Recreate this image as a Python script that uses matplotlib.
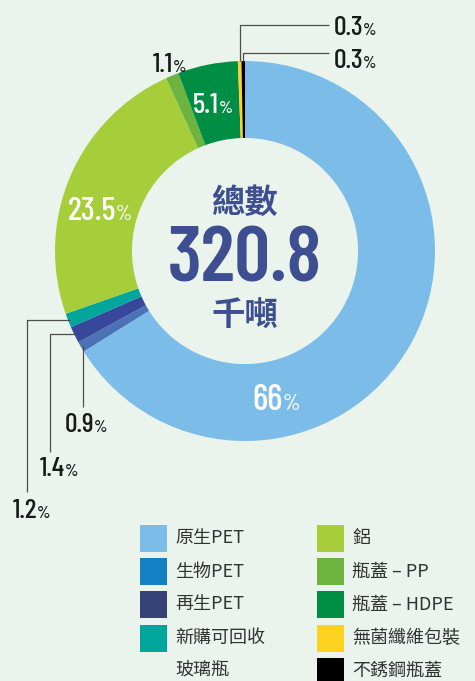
import numpy as np
import matplotlib

matplotlib.use("Agg")
import matplotlib.pyplot as plt
from matplotlib.patches import Rectangle

plt.rcParams["font.family"] = ["Noto Sans CJK TC", "DejaVu Sans"]

# data, clockwise from 12 o'clock
names = ["原生PET", "生物PET", "再生PET", "新購可回收\n玻璃瓶", "鋁",
         "瓶蓋 – PP", "瓶蓋 – HDPE", "無菌纖維包裝", "不銹鋼瓶蓋"]
shares = [66, 0.9, 1.4, 1.2, 23.5, 1.1, 5.1, 0.3, 0.3]
pct_text = ["66", "0.9", "1.4", "1.2", "23.5", "1.1", "5.1", "0.3", "0.3"]
slice_colors = ["#7bbde8", "#4a72b5", "#37479c", "#00a59c", "#a6cd3a",
                "#6db33f", "#008e45", "#ffd21f", "#000000"]
legend_colors = ["#7bbde8", "#1380c3", "#364377", "#00a59c", "#a6cd3a",
                 "#6db33f", "#008e45", "#ffd21f", "#000000"]
total = "320.8"

BG = "#eaf4ed"
NAVY = "#3d4f91"
NUM_FONT = ["Barlow Condensed", "DejaVu Sans"]

fig = plt.figure(figsize=(4.75, 6.81), dpi=100, facecolor=BG)
ax = fig.add_axes([0.1158, 0.3524, 0.8, 0.558])
ax.set_facecolor(BG)
wedges, _ = ax.pie(shares, colors=slice_colors, startangle=90, counterclock=False,
                   radius=1, wedgeprops=dict(width=0.405, edgecolor="none"))
ax.set_xlim(-1, 1)
ax.set_ylim(-1, 1)
ax.set_aspect("equal")
ax.axis("off")

# centre
ax.text(0, 0.25, "總數", ha="center", va="center", fontsize=24, fontweight="bold", color=NAVY)
ax.text(0, -0.163, total, ha="center", va="baseline", fontsize=57, fontweight=600,
        color=NAVY, family=NUM_FONT)
ax.text(0, -0.345, "千噸", ha="center", va="center", fontsize=24, fontweight="bold", color=NAVY)

# percentage labels: (x, baseline y, size, colour)
label_pos = {
    0: (0.20, -0.837, 26, "white"),
    4: (-0.679, 0.163, 24, "white"),
    6: (-0.137, 0.726, 21, "white"),
    5: (-0.379, 0.942, 20, "#1a1a1a"),
    7: (0.621, 1.137, 20, "#1a1a1a"),
    8: (0.621, 0.963, 20, "#1a1a1a"),
    1: (-0.795, -0.953, 20, "#1a1a1a"),
    2: (-0.947, -1.184, 20, "#1a1a1a"),
    3: (-1.095, -1.405, 20, "#1a1a1a"),
}
for i, (x, y, size, col) in label_pos.items():
    ax.text(x, y, pct_text[i], ha="right", va="baseline", fontsize=size, color=col,
            family=NUM_FONT, fontweight=500, clip_on=False)
    ax.text(x, y, "%", ha="left", va="baseline", fontsize=size * 0.62, color=col,
            family=NUM_FONT, fontweight=500, clip_on=False)


def edge_point(w, r=1.0):
    a = np.deg2rad((w.theta1 + w.theta2) / 2)
    return r * np.cos(a), r * np.sin(a)


line_kw = dict(color="#4d4d4d", lw=0.9, clip_on=False, solid_capstyle="butt")
# top leaders
for i, ytop in [(7, 1.189), (8, 1.042)]:
    x0, y0 = edge_point(wedges[i])
    ax.plot([x0, x0, 0.442], [y0, ytop, ytop], **line_kw)
# bottom-left leaders
x0, y0 = edge_point(wedges[1], 0.99)
ax.plot([x0, x0], [y0, -0.821], **line_kw)
for i, xcol, yend in [(2, -1.026, -1.058), (3, -1.147, -1.268)]:
    x0, y0 = edge_point(wedges[i], 0.99)
    ax.plot([x0, xcol, xcol], [y0, y0, yend], **line_kw)

# legend in pixel space
lax = fig.add_axes([0, 0, 1, 1])
lax.set_xlim(0, 475)
lax.set_ylim(681, 0)
lax.axis("off")
order_left = [0, 1, 2, 3]
order_right = [4, 5, 6, 7, 8]
row_y = [538.5, 571.5, 604.5, 638]
for col_x, idxs in [(140, order_left), (317, order_right)]:
    for k, i in enumerate(idxs):
        y = row_y[k] if k < 4 else row_y[3] + 33
        lax.add_patch(Rectangle((col_x, y - 13.5), 27, 27, color=legend_colors[i], lw=0))
        lines = names[i].split("\n")
        for j, t in enumerate(lines):
            lax.text(col_x + 35, y + j * 32, t, ha="left", va="center",
                     fontsize=13, color="#333333")

fig.savefig("out.png", dpi=100, facecolor=BG)
